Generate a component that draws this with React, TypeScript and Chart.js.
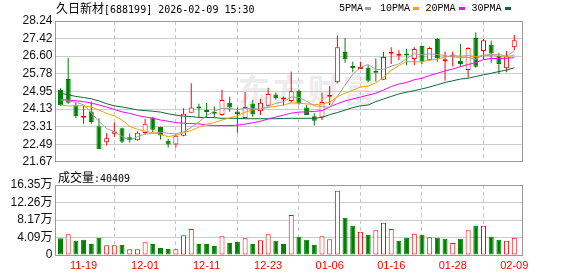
import React, { useEffect, useRef } from 'react';
import { Chart, registerables } from 'chart.js';

Chart.register(...registerables);

const dates = [
  '11-14', '11-17', '11-18', '11-19', '11-20', '11-21', '11-24', '11-25', '11-26', '11-27',
  '11-28', '12-01', '12-02', '12-03', '12-04', '12-05', '12-08', '12-09', '12-10', '12-11',
  '12-12', '12-15', '12-16', '12-17', '12-18', '12-19', '12-22', '12-23', '12-24', '12-25',
  '12-26', '12-29', '12-30', '12-31', '01-05', '01-06', '01-07', '01-08', '01-09', '01-12',
  '01-13', '01-14', '01-15', '01-16', '01-19', '01-20', '01-21', '01-22', '01-23', '01-26',
  '01-27', '01-28', '01-29', '01-30', '02-02', '02-03', '02-04', '02-05', '02-06', '02-09',
];

const opens = [
  25.02, 25.53, 24.31, 23.73, 24.02, 23.33, 22.58, 22.98, 23.23, 22.81,
  22.68, 23.01, 23.74, 23.29, 22.65, 22.48, 22.89, 23.96, 24.18, 24.06,
  23.97, 23.85, 24.43, 24.02, 23.71, 24.38, 24.03, 24.28, 24.81, 24.58,
  24.51, 24.99, 24.20, 23.79, 23.74, 24.70, 25.38, 26.79, 26.07, 26.00,
  26.06, 25.84, 25.50, 26.71, 26.62, 26.69, 26.47, 27.07, 26.41, 27.40,
  26.36, 26.58, 26.37, 25.95, 27.45, 26.84, 27.13, 26.61, 26.03, 27.02,
];
const highs = [
  25.10, 26.53, 24.43, 24.28, 24.48, 23.70, 23.01, 23.50, 23.26, 22.99,
  23.09, 23.67, 23.76, 23.30, 22.75, 22.95, 24.17, 25.34, 24.38, 24.41,
  24.25, 25.03, 24.70, 24.20, 24.93, 24.57, 24.61, 25.12, 24.90, 24.72,
  25.88, 25.04, 24.32, 23.94, 24.89, 25.19, 27.56, 27.45, 26.34, 26.34,
  26.18, 26.49, 26.79, 27.02, 26.87, 26.95, 27.02, 27.07, 27.04, 27.45,
  26.82, 26.82, 27.17, 27.02, 27.71, 27.40, 27.33, 26.76, 26.84, 27.59,
];
const lows = [
  24.28, 24.38, 23.71, 23.44, 23.44, 22.25, 22.43, 22.83, 22.55, 22.57,
  22.65, 22.93, 23.06, 22.71, 22.34, 22.34, 22.86, 23.96, 23.74, 23.74,
  23.74, 23.82, 24.00, 23.03, 23.71, 23.77, 23.85, 24.28, 24.58, 24.28,
  24.45, 24.33, 23.85, 23.36, 23.62, 24.32, 25.33, 26.29, 25.85, 26.00,
  25.38, 25.42, 25.50, 26.23, 26.41, 26.18, 26.18, 26.23, 26.37, 26.34,
  25.45, 26.12, 26.11, 25.60, 26.06, 26.46, 26.29, 25.77, 25.85, 26.87,
];
const closes = [
  24.31, 24.43, 23.80, 23.75, 23.53, 22.25, 22.77, 23.09, 22.60, 22.69,
  23.03, 23.44, 23.17, 22.90, 22.48, 22.88, 23.91, 24.20, 24.16, 23.99,
  23.91, 24.55, 24.20, 23.90, 24.23, 23.88, 24.42, 24.83, 24.64, 24.60,
  24.96, 24.39, 23.85, 23.59, 24.46, 24.74, 27.02, 26.46, 26.05, 26.08,
  25.45, 25.82, 26.56, 26.73, 26.65, 26.63, 26.93, 26.34, 26.98, 26.50,
  26.38, 26.60, 26.23, 26.98, 26.11, 27.34, 26.72, 26.23, 26.60, 27.34,
];

const volumes = [
  39300, 48700, 33000, 35400, 25900, 40100, 22800, 22800, 23600, 13400,
  13400, 29900, 25900, 16500, 14200, 13400, 46400, 60500, 25900, 25900,
  21200, 44000, 28300, 30700, 39300, 25900, 34600, 48700, 33000, 25900,
  93500, 42400, 35400, 23600, 44000, 36900, 150100, 87200, 68400, 54200,
  47100, 58100, 75400, 60500, 33000, 40100, 49500, 47100, 41600, 40100,
  37700, 28300, 37700, 58100, 68400, 68400, 42400, 35400, 33000, 40409,
];

const ma5 = [
  24.55, 24.51, 24.45, 24.33, 23.96, 23.55, 23.22, 23.08, 22.85, 22.68,
  22.84, 22.97, 22.99, 23.05, 23.00, 22.97, 23.07, 23.27, 23.53, 23.83,
  24.03, 24.16, 24.16, 24.11, 24.16, 24.15, 24.13, 24.25, 24.40, 24.47,
  24.69, 24.68, 24.49, 24.28, 24.25, 24.21, 24.73, 25.25, 25.75, 26.07,
  26.21, 25.97, 25.99, 26.13, 26.24, 26.48, 26.71, 26.66, 26.71, 26.68,
  26.63, 26.56, 26.54, 26.54, 26.46, 26.65, 26.68, 26.68, 26.60, 26.85,
];
const ma10 = [
  24.32, 24.28, 24.29, 24.28, 24.23, 24.08, 23.93, 23.81, 23.62, 23.32,
  23.19, 23.10, 23.03, 22.95, 22.84, 22.91, 23.02, 23.13, 23.29, 23.42,
  23.50, 23.62, 23.72, 23.82, 23.99, 24.09, 24.14, 24.21, 24.26, 24.32,
  24.42, 24.41, 24.37, 24.34, 24.36, 24.45, 24.71, 24.87, 25.01, 25.16,
  25.21, 25.35, 25.62, 25.94, 26.16, 26.35, 26.34, 26.33, 26.42, 26.46,
  26.56, 26.63, 26.60, 26.63, 26.57, 26.64, 26.62, 26.61, 26.57, 26.65,
];
const ma20 = [
  24.57, 24.55, 24.52, 24.48, 24.41, 24.32, 24.23, 24.11, 24.00, 23.93,
  23.83, 23.76, 23.70, 23.62, 23.56, 23.50, 23.47, 23.45, 23.44, 23.39,
  23.36, 23.36, 23.36, 23.38, 23.43, 23.49, 23.56, 23.67, 23.76, 23.85,
  23.94, 23.99, 24.00, 24.02, 24.06, 24.23, 24.38, 24.51, 24.60, 24.69,
  24.78, 24.87, 25.02, 25.18, 25.30, 25.37, 25.50, 25.57, 25.70, 25.80,
  25.91, 26.00, 26.11, 26.21, 26.30, 26.44, 26.49, 26.49, 26.50, 26.53,
];
const ma30 = [
  24.86, 24.80, 24.72, 24.67, 24.61, 24.51, 24.38, 24.28, 24.23, 24.16,
  24.09, 24.06, 24.03, 23.99, 23.91, 23.85, 23.80, 23.78, 23.74, 23.74,
  23.73, 23.70, 23.70, 23.70, 23.68, 23.68, 23.68, 23.68, 23.68, 23.69,
  23.70, 23.70, 23.70, 23.70, 23.74, 23.87, 23.97, 24.08, 24.20, 24.28,
  24.32, 24.48, 24.60, 24.72, 24.84, 24.92, 24.99, 25.07, 25.16, 25.27,
  25.37, 25.45, 25.53, 25.57, 25.65, 25.73, 25.80, 25.88, 25.95, 26.06,
];

const xTickLabels = ['11-19', '12-01', '12-11', '12-23', '01-06', '01-16', '01-28', '02-09'];
const priceTickLabels = ['21.67', '22.49', '23.31', '24.13', '24.95', '25.78', '26.60', '27.42', '28.24'];
const volTickLabels = ['0', '4.09万', '8.17万', '12.26万', '16.35万'];
const volTickValues = [0, 40875, 81750, 122625, 163500];

const RED = '#ff0000';
const GREEN = '#008000';
const GRID = '#cccccc';
const VGRID = '#c8c8c8';
const AXIS_FONT = "'Liberation Sans', Arial, 'Noto Sans CJK SC', sans-serif";
const CJK = "'Noto Sans CJK SC', sans-serif";
const MONO = "'DejaVu Sans Mono', monospace";

const idx = dates.map((_, i) => i);
const tickIdx = xTickLabels.map((l) => dates.indexOf(l));
const upCandle = (i: number) => closes[i] >= opens[i];
const upVol = (i: number) => (i === 0 ? closes[0] >= opens[0] : closes[i] >= closes[i - 1]);

const X_MIN = -0.65;
const X_MAX = 60.07;

const borderPlugin = {
  id: 'plotBorder',
  afterDraw(chart: any) {
    const { ctx, chartArea: a } = chart;
    const l = Math.floor(a.left) + 0.5;
    const r = Math.floor(a.right) + 0.5;
    const t = Math.floor(a.top) + 0.5;
    const b = Math.floor(a.bottom) + 0.5;
    ctx.save();
    ctx.strokeStyle = '#999999';
    ctx.lineWidth = 1;
    ctx.strokeRect(l, t, r - l, b - t);
    ctx.restore();
  },
};

function xScale(showLabels: boolean, height: number) {
  return {
    type: 'linear',
    min: X_MIN,
    max: X_MAX,
    offset: false,
    afterBuildTicks: (s: any) => {
      s.ticks = tickIdx.map((v) => ({ value: v }));
    },
    afterFit: (s: any) => {
      s.height = height;
    },
    ticks: {
      display: showLabels,
      autoSkip: false,
      maxRotation: 0,
      minRotation: 0,
      color: RED,
      padding: 4,
      font: { family: AXIS_FONT, size: 11 },
      callback: (v: any) => dates[Math.round(Number(v))],
    },
    grid: { color: VGRID, lineWidth: 1, drawTicks: false },
    border: { display: false, dash: [4, 3] },
  };
}

const line = (data: number[], color: string) => ({
  type: 'line' as const,
  data: idx.map((i) => ({ x: i, y: data[i] })),
  borderColor: color,
  borderWidth: 1,
  pointRadius: 0,
  tension: 0,
  fill: false,
  order: 0,
});

export default function App() {
  const priceRef = useRef<HTMLCanvasElement>(null);
  const volRef = useRef<HTMLCanvasElement>(null);

  useEffect(() => {
    const priceChart = new Chart(priceRef.current as HTMLCanvasElement, {
      type: 'bar',
      data: {
        datasets: [
          line(ma5, '#a0a0a0'),
          line(ma10, '#f5a300'),
          line(ma20, '#ff00ff'),
          line(ma30, '#0b6b36'),
          {
            type: 'bar',
            data: idx.map((i) => ({ x: i, y: [opens[i], closes[i]] })),
            backgroundColor: idx.map((i) => (upCandle(i) ? '#ffffff' : GREEN)),
            borderColor: idx.map((i) => (upCandle(i) ? RED : GREEN)),
            borderWidth: 1,
            borderSkipped: false,
            barThickness: 5,
            minBarLength: 2,
            grouped: false,
            inflateAmount: 0,
            order: 1,
          },
          {
            type: 'bar',
            data: idx.map((i) => ({ x: i, y: [lows[i], highs[i]] })),
            backgroundColor: idx.map((i) => (upCandle(i) ? RED : GREEN)),
            borderWidth: 0,
            barThickness: 1,
            grouped: false,
            inflateAmount: 0,
            order: 2,
          },
        ] as any,
      },
      options: {
        responsive: false,
        animation: false,
        events: [],
        layout: { padding: { left: 0, right: 55.5, top: 21, bottom: 7 } },
        plugins: { legend: { display: false }, tooltip: { enabled: false } },
        scales: {
          x: xScale(false, 0) as any,
          y: {
            type: 'linear',
            min: 21.67,
            max: 28.24,
            afterBuildTicks: (s: any) => {
              s.ticks = priceTickLabels.map((t) => ({ value: parseFloat(t) }));
            },
            afterFit: (s: any) => {
              s.width = 55.5;
            },
            ticks: {
              color: '#111111',
              padding: 3,
              font: { family: AXIS_FONT, size: 12 },
              callback: (_v: any, i: number) => priceTickLabels[i],
            },
            grid: { color: GRID, lineWidth: 1, drawTicks: false },
            border: { display: false },
          },
        },
      },
      plugins: [borderPlugin],
    });

    const volChart = new Chart(volRef.current as HTMLCanvasElement, {
      type: 'bar',
      data: {
        datasets: [
          {
            data: idx.map((i) => ({ x: i, y: volumes[i] })),
            backgroundColor: idx.map((i) => (upVol(i) ? '#ffffff' : GREEN)),
            borderColor: idx.map((i) => (upVol(i) ? RED : GREEN)),
            borderWidth: 1,
            borderSkipped: false,
            barThickness: 5,
            grouped: false,
            inflateAmount: 0,
          },
        ] as any,
      },
      options: {
        responsive: false,
        animation: false,
        events: [],
        layout: { padding: { left: 0, right: 55.5, top: 13, bottom: 0 } },
        plugins: { legend: { display: false }, tooltip: { enabled: false } },
        scales: {
          x: xScale(true, 21) as any,
          y: {
            type: 'linear',
            min: 0,
            max: 163500,
            afterBuildTicks: (s: any) => {
              s.ticks = volTickValues.map((v) => ({ value: v }));
            },
            afterFit: (s: any) => {
              s.width = 55.5;
            },
            ticks: {
              color: '#111111',
              padding: 3,
              font: { family: AXIS_FONT, size: 12 },
              callback: (_v: any, i: number) => volTickLabels[i],
            },
            grid: { color: GRID, lineWidth: 1, drawTicks: false },
            border: { display: false },
          },
        },
      },
      plugins: [borderPlugin],
    });

    return () => {
      priceChart.destroy();
      volChart.destroy();
    };
  }, []);

  const legend = [
    { label: '5PMA', x: 339, box: 365, color: '#a0a0a0' },
    { label: '10PMA', x: 380, box: 412.5, color: '#f5a300' },
    { label: '20PMA', x: 425.5, box: 458.5, color: '#ff00ff' },
    { label: '30PMA', x: 471.5, box: 505, color: '#0b6b36' },
  ];

  return (
    <div
      style={{
        position: 'fixed',
        left: 0,
        top: 0,
        width: 578,
        height: 276,
        background: '#ffffff',
        overflow: 'hidden',
        color: '#000',
      }}
    >
      <div
        style={{
          position: 'absolute',
          left: 238,
          top: 70,
          fontFamily: CJK,
          fontSize: 32,
          fontWeight: 700,
          letterSpacing: 3,
          color: '#ececec',
          whiteSpace: 'nowrap',
          lineHeight: '36px',
        }}
      >
        东方财富
      </div>
      <div style={{ position: 'absolute', left: 0, top: 0, width: 578, height: 172 }}>
        <canvas ref={priceRef} width={578} height={172} />
      </div>
      <div style={{ position: 'absolute', left: 0, top: 172, width: 578, height: 104 }}>
        <canvas ref={volRef} width={578} height={104} />
      </div>
      <div
        style={{
          position: 'absolute',
          left: 56,
          top: 1,
          lineHeight: '14px',
          whiteSpace: 'nowrap',
        }}
      >
        <span style={{ fontFamily: CJK, fontSize: 12 }}>久日新材</span>
        <span style={{ fontFamily: MONO, fontSize: 10 }}>[688199] 2026-02-09 15:30</span>
      </div>
      {legend.map((l) => (
        <React.Fragment key={l.label}>
          <div
            style={{
              position: 'absolute',
              left: l.x,
              top: 3,
              fontFamily: "'Liberation Mono', monospace",
              fontSize: 10,
              lineHeight: '12px',
              whiteSpace: 'nowrap',
            }}
          >
            {l.label}
          </div>
          <div
            style={{
              position: 'absolute',
              left: l.box,
              top: 7,
              width: 6,
              height: 3,
              background: l.color,
            }}
          />
        </React.Fragment>
      ))}
      <div
        style={{
          position: 'absolute',
          left: 58,
          top: 170,
          lineHeight: '14px',
          whiteSpace: 'nowrap',
        }}
      >
        <span style={{ fontFamily: CJK, fontSize: 12 }}>成交量</span>
        <span style={{ fontFamily: MONO, fontSize: 10 }}>:40409</span>
      </div>
    </div>
  );
}
